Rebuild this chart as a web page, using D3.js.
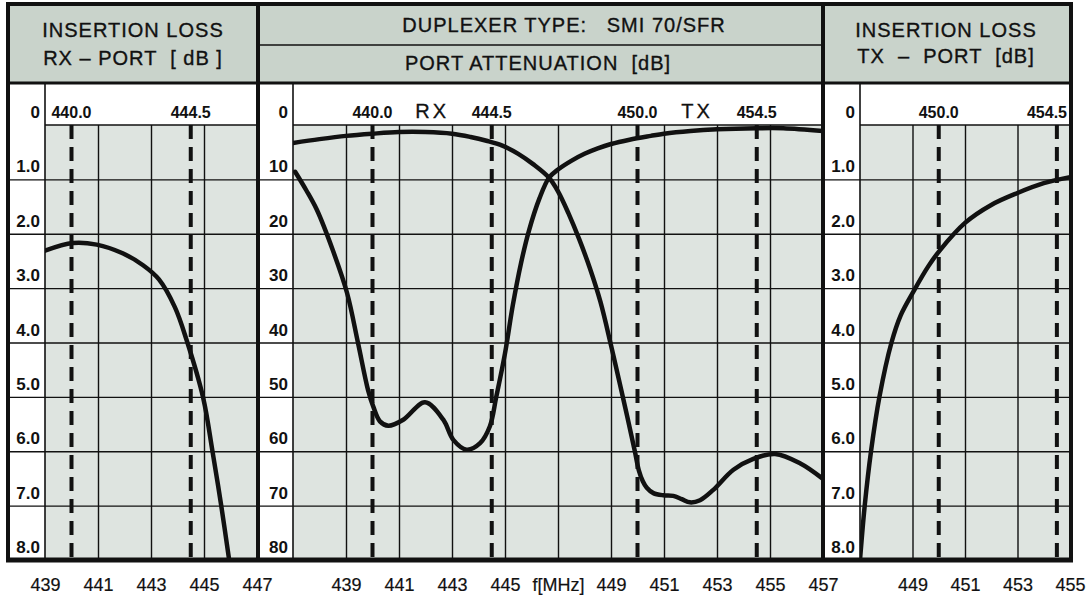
<!DOCTYPE html>
<html>
<head>
<meta charset="utf-8">
<script src="https://d3js.org/d3.v7.min.js"></script>
<title>Duplexer SMI 70/SFR</title>
<style>
  body { margin: 0; background: #fff; }
  text { font-family: "Liberation Sans", Arial, sans-serif; fill: #111; }
  .head { font-size: 20px; letter-spacing: 1px; text-anchor: middle; white-space: pre; stroke: #111; stroke-width: 0.35; }
  .ylab { font-size: 17px; font-weight: bold; text-anchor: end; }
  .flab { font-size: 16px; font-weight: bold; text-anchor: middle; }
  .band { font-size: 20px; letter-spacing: 3px; text-anchor: middle; stroke: #111; stroke-width: 0.3; }
  .grid line { stroke: #111; stroke-width: 1.4; }
  .grid .domain { display: none; }
  .xaxis .domain { display: none; }
  .xaxis text { font-size: 18px; stroke: #111; stroke-width: 0.2; }
</style>
</head>
<body>
<svg width="1088" height="598"></svg>
<script>
// ---- data: [frequency MHz, dB] ----
const rxInsertionLoss = [
  [439.0, 2.31], [440.05, 2.17], [440.95, 2.2], [441.93, 2.36], [442.7, 2.58],
  [443.3, 2.84], [443.9, 3.35], [444.34, 3.95], [444.97, 5.02], [445.32, 6.0],
  [445.65, 7.0], [445.95, 8.0]
];
const txInsertionLoss = [
  [447.0, 8.0], [447.18, 7.0], [447.42, 6.0], [447.74, 5.0], [448.2, 4.0],
  [448.55, 3.5], [449.05, 3.05], [449.6, 2.6], [450.05, 2.3], [451.0, 1.8], [452.0, 1.47],
  [453.0, 1.25], [454.0, 1.07], [455.0, 0.96]
];
const rxPortAttenuation = [
  [437.0, 3.3], [438.0, 2.6], [439.0, 2.0], [440.0, 1.6], [441.0, 1.3], [442.0, 1.3],
  [443.0, 1.6], [443.7, 2.2], [444.3, 2.9], [444.9, 3.8], [445.5, 5.3], [446.06, 7.2],
  [446.66, 9.7], [447.0, 12.2], [447.4, 16.3], [447.8, 21], [448.2, 26.3], [448.6, 32.5],
  [449.0, 40.5], [449.4, 49], [449.9, 60], [450.05, 63.5], [450.2, 65.5], [450.35, 66.7],
  [450.6, 67.7], [450.98, 68.1], [451.35, 68.2], [451.67, 68.8], [451.98, 69.4],
  [452.36, 69.0], [452.86, 67.1], [453.62, 63.4], [454.37, 61.4], [455.19, 60.5],
  [456.13, 62.2], [456.95, 64.9]
];
const txPortAttenuation = [
  [437.08, 8.6], [437.5, 12], [437.9, 15.6], [438.5, 23], [439.04, 30.9], [439.45, 40],
  [439.83, 48.7], [440.03, 51.8], [440.28, 54.5], [440.6, 55.3], [441.16, 54.2],
  [441.98, 51.0], [442.67, 54.2], [443.05, 57.9], [443.55, 59.7], [444.06, 58.5],
  [444.43, 55.4], [444.67, 50], [445.0, 42], [445.3, 33], [445.6, 25.5], [445.9, 19.5],
  [446.3, 13.5], [446.66, 9.7], [447.0, 8.2], [447.5, 6.6], [448.0, 5.3], [448.5, 4.3],
  [449.0, 3.5], [449.7, 2.7], [450.5, 2.0], [451.0, 1.6], [452.0, 1.1], [453.0, 0.8],
  [454.5, 0.6], [455.5, 0.6], [457.0, 1.1]
];

// ticks and markers
const rxBand = [440.0, 444.5];
const txBand = [450.0, 454.5];
const lossTicks = [0, 1, 2, 3, 4, 5, 6, 7, 8];
const attenTicks = [0, 10, 20, 30, 40, 50, 60, 70, 80];
const rxFreqTicks = [439, 441, 443, 445, 447];
const midFreqTicks = [439, 441, 443, 445, 447, 449, 451, 453, 455, 457];
const txFreqTicks = [449, 451, 453, 455];
const midGridTicks = [439, 441, 443, 445, 447, 449, 451, 453, 455];

// ---- layout ----
const svg = d3.select('svg');
const headTop = 4, headMid = 45, headBottom = 83, plotTop = 125, plotBottom = 560;
const headFill = '#c9d3cb', plotFill = '#dee4e0';

const panels = [
  { id: 'rx', x0: 8, xl: 45, x1: 257, fdom: [439, 447], ddom: [0, 8],
    yTicks: lossTicks, yFmt: d => d === 0 ? '0' : d3.format('.1f')(d),
    grid: [441, 443, 445], xTicks: rxFreqTicks, xFmt: d => d,
    marks: rxBand, band: null, curves: [rxInsertionLoss] },
  { id: 'mid', x0: 258, xl: 293, x1: 823, fdom: [437, 457], ddom: [0, 80],
    yTicks: attenTicks, yFmt: d => d,
    grid: midGridTicks, xTicks: midFreqTicks, xFmt: d => d === 447 ? 'f[MHz]' : d,
    marks: rxBand.concat(txBand), band: [['RX', rxBand], ['TX', txBand]],
    curves: [rxPortAttenuation, txPortAttenuation] },
  { id: 'tx', x0: 823, xl: 860, x1: 1070, fdom: [447, 455], ddom: [0, 8],
    yTicks: lossTicks, yFmt: d => d === 0 ? '0' : d3.format('.1f')(d),
    grid: [449, 451, 453], xTicks: txFreqTicks, xFmt: d => d,
    marks: txBand, band: null, curves: [txInsertionLoss] }
];

const headers = [
  { x: 133, lines: [['INSERTION LOSS', 37], ['RX – PORT  [ dB ]', 65]] },
  { x: 564, lines: [['DUPLEXER TYPE:   SMI 70/SFR', 32]] },
  { x: 538, lines: [['PORT ATTENUATION  [dB]', 70]] },
  { x: 946, lines: [['INSERTION LOSS', 37], ['TX  –  PORT  [dB]', 63]] }
];

const line = d3.line().curve(d3.curveCatmullRom.alpha(0.5));

panels.forEach(p => {
  const x = d3.scaleLinear().domain(p.fdom).range([p.xl, p.x1]);
  const y = d3.scaleLinear().domain(p.ddom).range([plotTop, plotBottom]);
  const g = svg.append('g');

  // backgrounds
  g.append('rect').attr('x', p.x0).attr('y', headTop)
    .attr('width', p.x1 - p.x0).attr('height', headBottom - headTop).attr('fill', headFill);
  g.append('rect').attr('x', p.x0).attr('y', headBottom)
    .attr('width', p.xl - p.x0).attr('height', plotBottom - headBottom).attr('fill', '#fff');
  g.append('rect').attr('x', p.xl).attr('y', headBottom)
    .attr('width', p.x1 - p.xl).attr('height', plotTop - headBottom).attr('fill', '#fff');
  g.append('rect').attr('x', p.xl).attr('y', plotTop)
    .attr('width', p.x1 - p.xl).attr('height', plotBottom - plotTop).attr('fill', plotFill);

  // vertical grid
  g.append('g').attr('class', 'grid')
    .attr('transform', `translate(0,${plotBottom})`)
    .call(d3.axisBottom(x).tickValues(p.grid).tickSize(-(plotBottom - plotTop)).tickFormat(''));

  // horizontal grid (across label column too)
  g.append('g').attr('class', 'grid')
    .attr('transform', `translate(${p.x1},0)`)
    .call(d3.axisLeft(y).tickValues(p.yTicks.slice(1, -1)).tickSize(p.x1 - p.x0).tickFormat(''));

  // top of plot, label column edge
  g.append('line').attr('x1', p.xl).attr('x2', p.x1).attr('y1', plotTop).attr('y2', plotTop)
    .attr('stroke', '#111').attr('stroke-width', 1.6);
  g.append('line').attr('x1', p.xl).attr('x2', p.xl).attr('y1', headBottom).attr('y2', plotBottom)
    .attr('stroke', '#111').attr('stroke-width', 1.6);

  // band edge markers
  g.selectAll('.mark').data(p.marks).join('line')
    .attr('x1', d => x(d)).attr('x2', d => x(d))
    .attr('y1', plotTop).attr('y2', plotBottom)
    .attr('stroke', '#111').attr('stroke-width', 4)
    .attr('stroke-dasharray', '14,8');

  // curves
  const clipId = 'clip-' + p.id;
  svg.append('clipPath').attr('id', clipId).append('rect')
    .attr('x', p.xl).attr('y', plotTop - 3).attr('width', p.x1 - p.xl).attr('height', plotBottom - plotTop + 3);
  g.append('g').attr('clip-path', `url(#${clipId})`)
    .selectAll('path').data(p.curves).join('path')
    .attr('d', d => line(d.map(v => [x(v[0]), y(v[1])])))
    .attr('fill', 'none').attr('stroke', '#111').attr('stroke-width', 4.5)
    .attr('stroke-linejoin', 'round').attr('stroke-linecap', 'round');

  // y labels in the white column
  g.selectAll('.ylab').data(p.yTicks).join('text')
    .attr('class', 'ylab')
    .attr('x', p.xl - 5).attr('y', d => y(d) - 7)
    .text(p.yFmt);

  // frequency marker labels above the plot
  g.selectAll('.flab').data(p.marks).join('text')
    .attr('class', 'flab')
    .attr('x', d => x(d)).attr('y', 118)
    .text(d => d3.format('.1f')(d))
    .each(function (d) {
      const w = this.getComputedTextLength();
      const cx = Math.min(x(d), p.x1 - 3 - w / 2);
      d3.select(this).attr('x', cx);
    });

  if (p.band) {
    g.selectAll('.band').data(p.band).join('text')
      .attr('class', 'band')
      .attr('x', d => x((d[1][0] + d[1][1]) / 2)).attr('y', 118)
      .text(d => d[0]);
  }

  // frequency axis under the frame
  const ax = g.append('g').attr('class', 'xaxis')
    .attr('transform', `translate(0,${plotBottom})`)
    .call(d3.axisBottom(x).tickValues(p.xTicks).tickSize(0).tickPadding(18).tickFormat(p.xFmt));
  ax.attr('font-family', null).attr('font-size', null);
});

// headers
headers.forEach(h => {
  h.lines.forEach(l => {
    svg.append('text').attr('class', 'head')
      .attr('x', h.x).attr('y', l[1]).text(l[0]);
  });
});

// frame
const frame = svg.append('g').attr('stroke', '#111').attr('fill', 'none');
frame.append('line').attr('x1', 258).attr('x2', 823).attr('y1', headMid).attr('y2', headMid)
  .attr('stroke-width', 1.5);
frame.append('line').attr('x1', 8).attr('x2', 1071).attr('y1', headBottom).attr('y2', headBottom)
  .attr('stroke-width', 3);
[258, 823].forEach(xx => {
  frame.append('line').attr('x1', xx).attr('x2', xx).attr('y1', headTop).attr('y2', plotBottom)
    .attr('stroke-width', 4);
});
frame.append('rect').attr('x', 8).attr('y', headTop).attr('width', 1063).attr('height', plotBottom - headTop)
  .attr('stroke-width', 4);
frame.append('line').attr('x1', 6).attr('x2', 1073).attr('y1', plotBottom).attr('y2', plotBottom)
  .attr('stroke-width', 5);
</script>
</body>
</html>
